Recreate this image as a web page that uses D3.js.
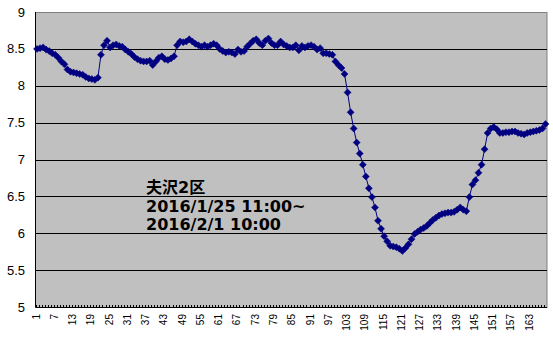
<!DOCTYPE html>
<html>
<head>
<meta charset="utf-8">
<script src="https://cdn.jsdelivr.net/npm/d3@7"></script>
<style>
  body { margin: 0; background: #fff; }
  svg { display: block; }
</style>
</head>
<body>
<div id="chart"></div>
<script>
// hourly readings, 168 points
var categories = d3.range(1, 169);
var values = [
  8.50, 8.51, 8.52, 8.49, 8.47, 8.44, 8.42, 8.38, 8.33, 8.29,
  8.22, 8.19, 8.18, 8.17, 8.16, 8.15, 8.12, 8.10, 8.09, 8.08,
  8.11, 8.42, 8.55, 8.61, 8.52, 8.55, 8.56, 8.54, 8.53, 8.49,
  8.46, 8.43, 8.39, 8.36, 8.34, 8.33, 8.33, 8.34, 8.28, 8.33,
  8.38, 8.40, 8.36, 8.35, 8.37, 8.40, 8.55, 8.60, 8.59, 8.60,
  8.63, 8.60, 8.57, 8.55, 8.53, 8.55, 8.53, 8.55, 8.57, 8.55,
  8.50, 8.47, 8.45, 8.46, 8.45, 8.43, 8.49, 8.46, 8.47, 8.53,
  8.57, 8.61, 8.63, 8.58, 8.55, 8.61, 8.64, 8.58, 8.55, 8.55,
  8.60, 8.56, 8.54, 8.52, 8.52, 8.55, 8.48, 8.54, 8.52, 8.54,
  8.55, 8.53, 8.49, 8.51, 8.44, 8.44, 8.43, 8.42, 8.33, 8.28,
  8.24, 8.16, 7.91, 7.64, 7.42, 7.23, 7.08, 6.93, 6.77, 6.61,
  6.49, 6.35, 6.17, 6.06, 5.96, 5.89, 5.83, 5.82, 5.81, 5.79,
  5.76, 5.80, 5.85, 5.92, 5.99, 6.02, 6.05, 6.07, 6.10, 6.14,
  6.18, 6.21, 6.24, 6.26, 6.27, 6.28, 6.28, 6.29, 6.32, 6.35,
  6.32, 6.30, 6.49, 6.66, 6.72, 6.82, 6.93, 7.14, 7.36, 7.42,
  7.44, 7.41, 7.36, 7.36, 7.37, 7.37, 7.38, 7.38, 7.36, 7.35,
  7.34, 7.36, 7.37, 7.38, 7.39, 7.40, 7.42, 7.48
];
var xTickLabels = [1, 7, 13, 19, 25, 31, 37, 43, 49, 55, 61, 67, 73, 79, 85,
  91, 97, 103, 109, 115, 121, 127, 133, 139, 145, 151, 157, 163];
var yTicks = [5, 5.5, 6, 6.5, 7, 7.5, 8, 8.5, 9];
var noteLines = ["夫沢2区", "2016/1/25 11:00~", "2016/2/1 10:00"];

(function() {
    var width = 553, height = 339;
    var plotLeft = 35.5, plotRight = 547, plotTop = 12, plotBottom = 307;

    var svg = d3.select('#chart').append('svg')
        .attr('width', width)
        .attr('height', height);

    var x = d3.scaleBand().domain(categories).range([plotLeft, plotRight]);
    var y = d3.scaleLinear().domain([5, 9]).range([plotBottom, plotTop]);

    // plot area
    svg.append('rect')
        .attr('x', plotLeft).attr('y', plotTop + 0.5)
        .attr('width', plotRight - plotLeft).attr('height', plotBottom - plotTop)
        .style('fill', '#c0c0c0')
        .style('stroke', '#808080')
        .style('stroke-width', 1);

    // gridlines
    svg.selectAll('.grid').data(yTicks.slice(1, -1)).enter().append('line')
        .attr('x1', plotLeft).attr('x2', plotRight)
        .attr('y1', function(d) { return Math.round(y(d)) + 0.5; })
        .attr('y2', function(d) { return Math.round(y(d)) + 0.5; })
        .style('stroke', '#000')
        .style('stroke-width', 1);

    // axis lines
    svg.append('line')
        .attr('x1', plotLeft).attr('x2', plotLeft).attr('y1', plotTop).attr('y2', plotBottom)
        .style('stroke', '#000');
    svg.append('line')
        .attr('x1', plotLeft).attr('x2', plotRight).attr('y1', plotBottom + 0.5).attr('y2', plotBottom + 0.5)
        .style('stroke', '#000');

    // small tick marks between categories
    svg.selectAll('.ctick').data(categories).enter().append('line')
        .attr('x1', function(d) { return Math.round(x(d)) + 0.5; })
        .attr('x2', function(d) { return Math.round(x(d)) + 0.5; })
        .attr('y1', plotBottom - 2).attr('y2', plotBottom)
        .style('stroke', '#000');

    // y labels
    svg.selectAll('.ylab').data(yTicks).enter().append('text')
        .attr('x', 25)
        .attr('y', function(d) { return y(d); })
        .attr('dy', '0.35em')
        .attr('text-anchor', 'end')
        .style('font-family', 'Liberation Sans, Arial, sans-serif')
        .style('font-size', '13px')
        .style('fill', '#000')
        .text(function(d) { return d; });

    // x labels, rotated
    svg.selectAll('.xlab').data(xTickLabels).enter().append('text')
        .attr('transform', function(d) {
            return 'translate(' + (x(d) + x.bandwidth() / 2 - 1) + ',' + 314 + ') rotate(-90)';
        })
        .attr('dy', '0.35em')
        .attr('text-anchor', 'end')
        .style('font-family', 'Liberation Sans, Arial, sans-serif')
        .style('font-size', '10px')
        .style('fill', '#000')
        .text(function(d) { return d; });

    // line
    var line = d3.line()
        .x(function(d, i) { return x(categories[i]) + x.bandwidth() / 2; })
        .y(function(d) { return y(d); });

    svg.append('path')
        .datum(values)
        .attr('d', line)
        .style('fill', 'none')
        .style('stroke', '#000080')
        .style('stroke-width', 1);

    // diamond markers
    svg.selectAll('.pt').data(values).enter().append('path')
        .attr('transform', function(d, i) {
            return 'translate(' + (x(categories[i]) + x.bandwidth() / 2) + ',' + y(d) + ')';
        })
        .attr('d', 'M0,-3.5L3.5,0L0,3.5L-3.5,0Z')
        .style('fill', '#000080')
        .style('stroke', '#000080')
        .style('stroke-width', 0.5);

    // note text
    svg.selectAll('.note').data(noteLines).enter().append('text')
        .attr('x', 146)
        .attr('y', function(d, i) { return 193 + i * 18.5; })
        .style('font-family', 'DejaVu Sans, "Noto Sans CJK JP", sans-serif')
        .style('font-weight', 'bold')
        .style('font-size', '16px')
        .style('fill', '#000')
        .text(function(d) { return d; });
})();
</script>
</body>
</html>
